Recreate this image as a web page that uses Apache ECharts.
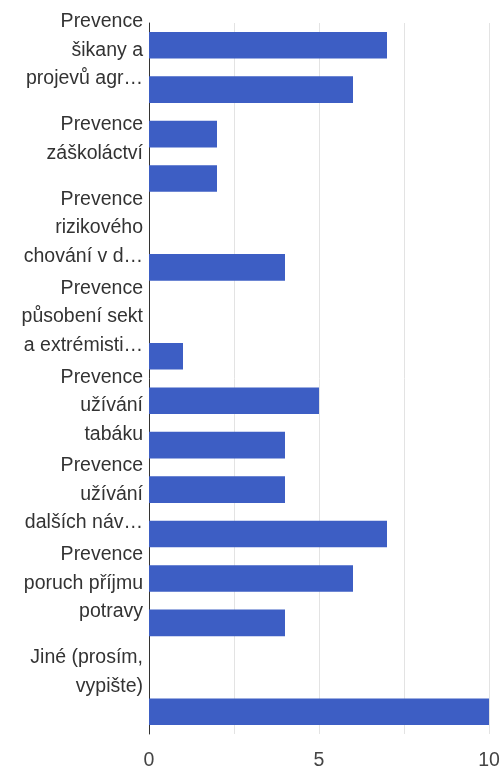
<!DOCTYPE html>
<html>
<head>
<meta charset="utf-8">
<script src="https://cdn.jsdelivr.net/npm/echarts@6/dist/echarts.min.js"></script>
<style>
html,body{margin:0;padding:0;background:#fff;}
#chart{width:504px;height:767px;}
</style>
</head>
<body>
<div id="chart"></div>
<script>
// 16 answer options; only every other label is shown in the reference
const categories = [
  'Prevence\nšikany a\nprojevů agr…', '',
  'Prevence\nzáškoláctví', '',
  'Prevence\nrizikového\nchování v d…', '',
  'Prevence\npůsobení sekt\na extrémisti…', '',
  'Prevence\nužívání\ntabáku', '',
  'Prevence\nužívání\ndalších náv…', '',
  'Prevence\nporuch příjmu\npotravy', '',
  'Jiné (prosím,\nvypište)', ''
];
const values = [7, 6, 2, 2, 0, 4, 0, 1, 5, 4, 4, 7, 6, 4, 0, 10];
const axisMin = 0, axisMax = 10, axisStep = 2.5;
const labeledTicks = [0, 5, 10];

const FONT = 'Liberation Sans, Arial, sans-serif';
const chart = echarts.init(document.getElementById('chart'), null, {renderer: 'canvas'});
chart.setOption({
  animation: false,
  backgroundColor: '#fff',
  grid: {left: 149, right: 15, top: 23, bottom: 33, containLabel: false, outerBoundsMode: 'none'},
  xAxis: {
    type: 'value', min: axisMin, max: axisMax, interval: axisStep,
    axisLine: {show: false}, axisTick: {show: false},
    splitLine: {show: true, lineStyle: {color: '#e3e3e3', width: 1}},
    axisLabel: {
      margin: 17, color: '#444', fontSize: 19.5, fontFamily: FONT,
      formatter: v => labeledTicks.indexOf(v) >= 0 ? String(v) : ''
    }
  },
  yAxis: {
    type: 'category', data: categories, inverse: true,
    axisLine: {show: true, lineStyle: {color: '#333', width: 1}},
    axisTick: {show: false},
    axisLabel: {
      interval: 0, margin: 6, align: 'right',
      formatter: v => v ? '{s|}\n' + v.split('\n').map(l => '{t|' + l + '}').join('\n') : '',
      rich: {
        s: {lineHeight: 10, fontSize: 10},
        t: {color: '#333', fontSize: 19.5, lineHeight: 28.5, fontFamily: FONT, align: 'right'}
      }
    }
  },
  series: [{
    type: 'bar', data: values, barWidth: '60%',
    itemStyle: {color: '#3d5ec4'}
  }]
});
</script>
</body>
</html>
